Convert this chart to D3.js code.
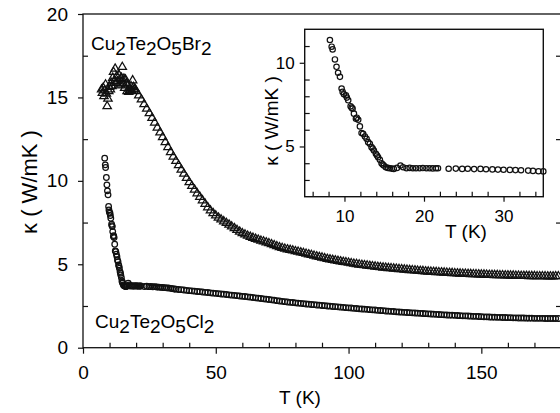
<!DOCTYPE html>
<html>
<head>
<meta charset="utf-8">
<script src="https://cdn.jsdelivr.net/npm/d3@7"></script>
<style>
  html, body { margin: 0; padding: 0; background: #fff; }
  svg { display: block; font-family: "Liberation Sans", Arial, sans-serif; }
</style>
</head>
<body>
<div id="chart"></div>
<script>
// ── Datos ──────────────────────────────────────────────
// Cu2Te2O5Br2 (triángulos), zona de baja T
const brLowT = [7.0, 7.3, 7.6, 7.9, 8.2, 8.5, 8.8, 9.1, 9.4, 9.7, 10.0, 10.3, 10.6, 10.9, 11.2, 11.5, 11.8, 12.1, 12.4, 12.7, 13.0, 13.3, 13.6, 13.9, 14.2, 14.5, 14.8, 15.1, 15.4, 15.7, 16.0, 16.3, 16.6, 16.9, 17.2, 17.5, 17.8, 18.1, 18.4, 18.7, 19.0, 19.3, 19.6];
const brLowK = [15.5, 15.3, 15.6, 15.1, 15.45, 15.8, 15.25, 14.5, 14.95, 15.4, 15.65, 15.5, 15.9, 15.7, 16.2, 16.55, 16.0, 16.75, 15.9, 16.3, 16.0, 15.75, 16.35, 16.1, 15.8, 16.2, 16.85, 15.9, 16.15, 15.6, 16.1, 15.85, 15.4, 15.75, 15.35, 15.55, 15.45, 15.7, 15.45, 16.05, 15.65, 15.5, 15.55];
// Cu2Te2O5Br2, cola 20-179 K
const brTailT = [
  20, 21, 22, 23, 24, 25, 26, 27, 28, 29, 30, 31, 32, 33, 34, 35, 36, 37, 38, 39,
  40, 41, 42, 43, 44, 45, 46, 47, 48, 49, 50, 51, 52, 53, 54, 55, 56, 57, 58, 59,
  60, 61, 62, 63, 64, 65, 66, 67, 68, 69, 70, 71, 72, 73, 74, 75, 76, 77, 78, 79,
  80, 81, 82, 83, 84, 85, 86, 87, 88, 89, 90, 91, 92, 93, 94, 95, 96, 97, 98, 99,
  100, 101, 102, 103, 104, 105, 106, 107, 108, 109, 110, 111, 112, 113, 114, 115, 116, 117, 118, 119,
  120, 121, 122, 123, 124, 125, 126, 127, 128, 129, 130, 131, 132, 133, 134, 135, 136, 137, 138, 139,
  140, 141, 142, 143, 144, 145, 146, 147, 148, 149, 150, 151, 152, 153, 154, 155, 156, 157, 158, 159,
  160, 161, 162, 163, 164, 165, 166, 167, 168, 169, 170, 171, 172, 173, 174, 175, 176, 177, 178, 179];
const brTailK = [
  15.40, 15.15, 14.90, 14.62, 14.35, 14.08, 13.80, 13.52, 13.22, 12.93, 12.65, 12.35, 12.05, 11.75, 11.48, 11.22, 10.96, 10.70, 10.45, 10.20,
  9.95, 9.72, 9.50, 9.28, 9.07, 8.86, 8.65, 8.44, 8.25, 8.09, 7.95, 7.82, 7.71, 7.60, 7.50, 7.40, 7.29, 7.19, 7.08, 6.98,
  6.89, 6.81, 6.74, 6.67, 6.61, 6.55, 6.50, 6.44, 6.39, 6.34, 6.29, 6.23, 6.17, 6.11, 6.05, 6.00, 5.96, 5.92, 5.89, 5.85,
  5.81, 5.78, 5.74, 5.70, 5.66, 5.62, 5.58, 5.54, 5.50, 5.46, 5.43, 5.39, 5.35, 5.32, 5.29, 5.26, 5.23, 5.20, 5.17, 5.15,
  5.12, 5.09, 5.06, 5.04, 5.01, 4.99, 4.97, 4.95, 4.93, 4.91, 4.89, 4.87, 4.85, 4.83, 4.82, 4.80, 4.79, 4.77, 4.76, 4.74,
  4.73, 4.71, 4.70, 4.68, 4.67, 4.66, 4.64, 4.63, 4.62, 4.60, 4.59, 4.58, 4.57, 4.56, 4.55, 4.54, 4.53, 4.52, 4.51, 4.50,
  4.49, 4.48, 4.47, 4.46, 4.46, 4.45, 4.44, 4.43, 4.43, 4.42, 4.41, 4.41, 4.40, 4.39, 4.39, 4.38, 4.38, 4.37, 4.37, 4.36,
  4.36, 4.35, 4.35, 4.34, 4.34, 4.33, 4.33, 4.33, 4.32, 4.32, 4.32, 4.31, 4.31, 4.31, 4.31, 4.30, 4.30, 4.30, 4.31, 4.31];

// Cu2Te2O5Cl2 (círculos), baja T (también se ve en el inset)
const clLowT = [8.17, 8.39, 8.51, 8.8, 9.0, 9.2, 9.43, 9.64, 9.77, 9.93, 10.18, 10.3, 10.47, 10.77, 10.9, 11.02, 11.19, 11.44, 11.55, 11.73,
  11.94, 12.15, 12.35, 12.57, 12.78, 12.98, 13.19, 13.4, 13.55, 13.7, 13.95, 14.1, 14.23, 14.45, 14.66, 14.8, 14.95, 15.2, 15.45, 15.7,
  15.95, 16.2, 16.6, 17.04, 17.37, 17.8, 18.2, 18.6, 19.0, 19.45, 19.85, 20.3, 20.7, 21.1, 21.5, 21.76,
  23.1, 24.0, 24.8, 25.5, 26.3, 27.1, 27.8, 28.6, 29.3, 30.0, 30.8, 31.5, 32.2, 33.1, 33.7, 34.4];
const clLowK = [11.36, 10.96, 10.8, 10.2, 9.76, 9.4, 9.16, 8.46, 8.26, 8.12, 8.06, 7.92, 7.76, 7.4, 7.32, 7.26, 6.96, 6.66, 6.72, 6.6,
  6.2, 5.8, 5.76, 5.6, 5.46, 5.26, 5.16, 4.96, 4.88, 4.76, 4.56, 4.46, 4.36, 4.2, 4.0, 3.92, 3.86, 3.76, 3.72, 3.7,
  3.68, 3.66, 3.72, 3.86, 3.76, 3.7, 3.72, 3.7, 3.7, 3.7, 3.71, 3.7, 3.7, 3.69, 3.7, 3.7,
  3.67, 3.68, 3.66, 3.67, 3.65, 3.66, 3.64, 3.63, 3.62, 3.61, 3.6, 3.59, 3.58, 3.56, 3.54, 3.52];
// Cu2Te2O5Cl2, cola 35-179 K
const clTailT = [
  35, 36, 37, 38, 39, 40, 41, 42, 43, 44, 45, 46, 47, 48, 49, 50, 51, 52, 53, 54,
  55, 56, 57, 58, 59, 60, 61, 62, 63, 64, 65, 66, 67, 68, 69, 70, 71, 72, 73, 74,
  75, 76, 77, 78, 79, 80, 81, 82, 83, 84, 85, 86, 87, 88, 89, 90, 91, 92, 93, 94,
  95, 96, 97, 98, 99, 100, 101, 102, 103, 104, 105, 106, 107, 108, 109, 110, 111, 112, 113, 114,
  115, 116, 117, 118, 119, 120, 121, 122, 123, 124, 125, 126, 127, 128, 129, 130, 131, 132, 133, 134,
  135, 136, 137, 138, 139, 140, 141, 142, 143, 144, 145, 146, 147, 148, 149, 150, 151, 152, 153, 154,
  155, 156, 157, 158, 159, 160, 161, 162, 163, 164, 165, 166, 167, 168, 169, 170, 171, 172, 173, 174,
  175, 176, 177, 178, 179];
const clTailK = [
  3.51, 3.49, 3.48, 3.46, 3.44, 3.42, 3.41, 3.39, 3.37, 3.36, 3.34, 3.32, 3.31, 3.29, 3.27, 3.26, 3.24, 3.22, 3.21, 3.19,
  3.17, 3.15, 3.14, 3.12, 3.10, 3.08, 3.07, 3.05, 3.03, 3.01, 2.99, 2.97, 2.95, 2.93, 2.91, 2.89, 2.87, 2.85, 2.82, 2.80,
  2.78, 2.76, 2.74, 2.72, 2.71, 2.69, 2.67, 2.66, 2.64, 2.62, 2.61, 2.59, 2.58, 2.56, 2.55, 2.53, 2.52, 2.50, 2.49, 2.47,
  2.46, 2.45, 2.43, 2.42, 2.40, 2.39, 2.38, 2.36, 2.35, 2.33, 2.32, 2.31, 2.30, 2.28, 2.27, 2.26, 2.24, 2.23, 2.22, 2.20,
  2.19, 2.18, 2.17, 2.15, 2.14, 2.13, 2.12, 2.11, 2.10, 2.09, 2.08, 2.07, 2.06, 2.05, 2.04, 2.03, 2.02, 2.01, 2.00, 1.99,
  1.98, 1.97, 1.96, 1.95, 1.95, 1.94, 1.93, 1.92, 1.91, 1.91, 1.90, 1.89, 1.88, 1.88, 1.87, 1.86, 1.85, 1.85, 1.84, 1.83,
  1.83, 1.82, 1.82, 1.81, 1.81, 1.80, 1.80, 1.79, 1.79, 1.78, 1.78, 1.78, 1.77, 1.77, 1.77, 1.76, 1.76, 1.76, 1.76, 1.75,
  1.75, 1.75, 1.75, 1.75, 1.75];

// Ticks
const xMajor = [0, 50, 100, 150];
const xMinor = [10, 20, 30, 40, 60, 70, 80, 90, 110, 120, 130, 140, 160, 170];
const yMajor = [0, 5, 10, 15, 20];
const yMinor = [2.5, 7.5, 12.5, 17.5];
const inXMajor = [10, 20, 30];
const inXMinor = [6, 8, 12, 14, 16, 18, 22, 24, 26, 28, 32, 34];
const inYMajor = [5, 10];
const inYMinor = [3, 4, 6, 7, 8, 9, 11];

(function () {
  "use strict";

  const W = 560, H = 413;
  const INK = "#111";
  const FONT = 19;

  const pairs = (t, k) => t.map((v, i) => [v, k[i]]);
  const brData = pairs(brLowT, brLowK).concat(pairs(brTailT, brTailK));
  const clData = pairs(clLowT, clLowK).concat(pairs(clTailT, clTailK));
  const clInset = clData.filter((d) => d[0] <= 35);

  const svg = d3.select("#chart").append("svg").attr("width", W).attr("height", H);

  // ── Gráfico principal ─────────────────────────────────
  const x = d3.scaleLinear().domain([0, 180]).range([83, 561]);
  const y = d3.scaleLinear().domain([0, 20]).range([347.7, 14]);

  const gMain = svg.append("g");

  // Datos Br (triángulos)
  const tri = "M0,-4.3L4.2,2.9L-4.2,2.9Z";
  gMain
    .append("g")
    .selectAll("path")
    .data(brData)
    .join("path")
    .attr("d", tri)
    .attr("transform", (d) => `translate(${x(d[0])},${y(d[1])})`)
    .attr("fill", "none")
    .attr("stroke", INK)
    .attr("stroke-width", 1.25);

  // Datos Cl (círculos)
  gMain
    .append("g")
    .selectAll("circle")
    .data(clData)
    .join("circle")
    .attr("cx", (d) => x(d[0]))
    .attr("cy", (d) => y(d[1]))
    .attr("r", 2.8)
    .attr("fill", "none")
    .attr("stroke", INK)
    .attr("stroke-width", 1.25);

  // Marco y ejes
  const axisStyle = (sel) => sel.select(".domain").remove();

  // Eje X: mayores hacia fuera, menores hacia dentro
  gMain.append("g").attr("transform", `translate(0,${y(0)})`)
    .call(d3.axisBottom(x).tickValues(xMajor).tickSize(6).tickPadding(12).tickFormat(d3.format("d")))
    .call(axisStyle);
  gMain.append("g").attr("transform", `translate(0,${y(0)})`)
    .call(d3.axisTop(x).tickValues(xMinor).tickSize(5).tickFormat(""))
    .call(axisStyle);

  // Eje Y
  gMain.append("g").attr("transform", `translate(${x(0)},0)`)
    .call(d3.axisLeft(y).tickValues(yMajor).tickSize(5).tickPadding(10).tickFormat(d3.format("d")))
    .call(axisStyle);
  gMain.append("g").attr("transform", `translate(${x(0)},0)`)
    .call(d3.axisRight(y).tickValues(yMinor).tickSize(5).tickFormat(""))
    .call(axisStyle);
  // Eje derecho (casi fuera de la imagen)
  gMain.append("g").attr("transform", `translate(${x(180)},0)`)
    .call(d3.axisLeft(y).tickValues(yMinor).tickSize(5).tickFormat(""))
    .call(axisStyle);

  gMain.append("rect")
    .attr("x", x(0)).attr("y", y(20))
    .attr("width", x(180) - x(0)).attr("height", y(0) - y(20))
    .attr("fill", "none").attr("stroke", INK).attr("stroke-width", 1.3);

  gMain.selectAll(".tick line").attr("stroke", INK).attr("stroke-width", 1.2);
  gMain.selectAll(".tick text").attr("font-size", FONT).attr("fill", "#000").attr("font-family", "Liberation Sans, Arial, sans-serif");

  // Títulos de ejes
  svg.append("text").attr("x", 300).attr("y", 404).attr("text-anchor", "middle")
    .attr("font-size", FONT).text("T (K)");
  svg.append("text").attr("transform", "translate(37,182) rotate(-90)").attr("text-anchor", "middle")
    .attr("font-size", 22).text("κ ( W/mK )");

  // Etiquetas de compuestos
  function formula(xp, yp, parts) {
    const t = svg.append("text").attr("x", xp).attr("y", yp).attr("font-size", FONT);
    parts.forEach(([s, sub]) => {
      t.append("tspan").attr("dy", sub ? 5 : -5).text(s);
    });
    // primer tspan sin desplazamiento
    t.select("tspan").attr("dy", 0);
  }
  formula(91, 50, [["Cu", 0], ["2", 1], ["Te", 0], ["2", 1], ["O", 0], ["5", 1], ["Br", 0], ["2", 1]]);
  formula(95, 328, [["Cu", 0], ["2", 1], ["Te", 0], ["2", 1], ["O", 0], ["5", 1], ["Cl", 0], ["2", 1]]);

  // ── Inset ─────────────────────────────────────────────
  const ix = d3.scaleLinear().domain([5, 35]).range([304.7, 543.3]);
  const iy = d3.scaleLinear().domain([2, 12]).range([196.7, 29.3]);
  const gIn = svg.append("g");

  gIn.append("rect")
    .attr("x", ix(5)).attr("y", iy(12))
    .attr("width", ix(35) - ix(5)).attr("height", iy(2) - iy(12))
    .attr("fill", "#fff");

  gIn.append("g")
    .selectAll("circle")
    .data(clInset)
    .join("circle")
    .attr("cx", (d) => ix(d[0]))
    .attr("cy", (d) => iy(d[1]))
    .attr("r", 2.7)
    .attr("fill", "none")
    .attr("stroke", INK)
    .attr("stroke-width", 1.2);

  gIn.append("g").attr("transform", `translate(0,${iy(2)})`)
    .call(d3.axisBottom(ix).tickValues(inXMajor).tickSize(5).tickPadding(8).tickFormat(d3.format("d")))
    .call(axisStyle);
  gIn.append("g").attr("transform", `translate(0,${iy(2)})`)
    .call(d3.axisTop(ix).tickValues(inXMinor).tickSize(5).tickFormat(""))
    .call(axisStyle);
  gIn.append("g").attr("transform", `translate(${ix(5)},0)`)
    .call(d3.axisLeft(iy).tickValues(inYMajor).tickSize(5).tickPadding(5).tickFormat(d3.format("d")))
    .call(axisStyle);
  gIn.append("g").attr("transform", `translate(${ix(5)},0)`)
    .call(d3.axisRight(iy).tickValues(inYMinor).tickSize(5).tickFormat(""))
    .call(axisStyle);

  gIn.append("rect")
    .attr("x", ix(5)).attr("y", iy(12))
    .attr("width", ix(35) - ix(5)).attr("height", iy(2) - iy(12))
    .attr("fill", "none").attr("stroke", INK).attr("stroke-width", 1.4);

  gIn.selectAll(".tick line").attr("stroke", INK).attr("stroke-width", 1.2);
  gIn.selectAll(".tick text").attr("font-size", 17).attr("fill", "#000").attr("font-family", "Liberation Sans, Arial, sans-serif");

  svg.append("text").attr("x", 466).attr("y", 238).attr("text-anchor", "middle")
    .attr("font-size", FONT).text("T (K)");
  svg.append("text").attr("transform", "translate(278,121) rotate(-90)").attr("text-anchor", "middle")
    .attr("font-size", 19).text("κ ( W/mK )");
})();
</script>
</body>
</html>
